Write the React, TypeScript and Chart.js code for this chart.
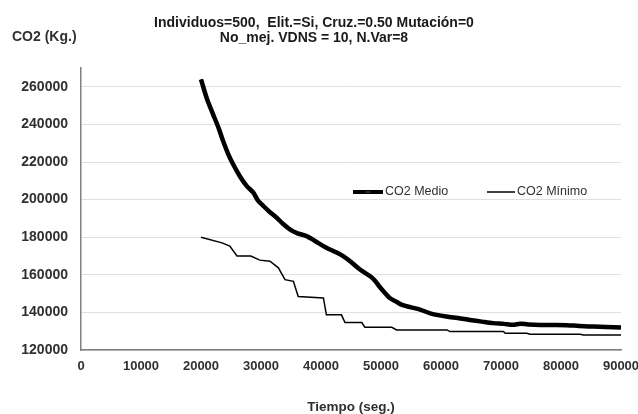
import React, { useEffect, useRef } from "react";
import { Chart, registerables } from "chart.js";

Chart.register(...registerables);

const titleLines = ["Individuos=500,  Elit.=Si, Cruz.=0.50 Mutación=0", "No_mej. VDNS = 10, N.Var=8"];
const yAxisTitle = "CO2 (Kg.)";
const xAxisTitle = "Tiempo (seg.)";

const xTickValues = [0, 10000, 20000, 30000, 40000, 50000, 60000, 70000, 80000, 90000];
const yTickValues = [120000, 140000, 160000, 180000, 200000, 220000, 240000, 260000];

const tiempoMedio = [20000, 21000, 22000, 23000, 23700, 24500, 25400, 26500, 27600, 28700, 29500, 30400, 31500, 32600, 33700, 34800, 36000, 37600, 39000, 40900, 42300, 43700, 45000, 46500, 48200, 49000, 49800, 50700, 51500, 52500, 53500, 55000, 56500, 58200, 60900, 62800, 64800, 66800, 68700, 70500, 72000, 73200, 74500, 76500, 79000, 81000, 83000, 85400, 87500, 90000];
const co2Medio = [264000, 253500, 245500, 237500, 231000, 224500, 218500, 212300, 207300, 203800, 199500, 196600, 193300, 190400, 187000, 184200, 182200, 180600, 178000, 174400, 172300, 169900, 166800, 162800, 159200, 156800, 153500, 150200, 147500, 145800, 144000, 142700, 141500, 139500, 137800, 137000, 136000, 135100, 134300, 133900, 133400, 134000, 133600, 133300, 133300, 133200, 132800, 132500, 132300, 132000];

const tiempoMinimo = [20000, 23500, 24800, 26000, 28300, 29800, 31500, 32900, 34000, 35400, 36200, 40400, 40900, 43400, 44000, 46800, 47300, 51800, 52600, 61000, 61500, 70400, 70700, 74300, 74800, 83200, 83700, 90000];
const co2Minimo = [180000, 177000, 175300, 170000, 170000, 167800, 167200, 163700, 157400, 156500, 148500, 147700, 138700, 138700, 134600, 134600, 132100, 132100, 130700, 130700, 129800, 129800, 128900, 128900, 128400, 128400, 128000, 128000];

const serieMedio = "CO2 Medio";
const serieMinimo = "CO2 Mínimo";

const FONT = "'Liberation Sans', Arial, sans-serif";
const TEXT = "#303030";
const BLUE = "#24578a";

const textPlugin = {
  id: "textPlugin",
  afterDraw(chart: any) {
    const ctx = chart.ctx as CanvasRenderingContext2D;
    ctx.save();
    ctx.fillStyle = "#1a1a1a";
    ctx.textBaseline = "alphabetic";
    ctx.font = `bold 14px ${FONT}`;
    ctx.textAlign = "center";
    ctx.fillText(titleLines[0], 314, 27);
    ctx.fillText(titleLines[1], 314, 42);
    ctx.textAlign = "left";
    ctx.font = `bold 14px ${FONT}`;
    ctx.fillStyle = TEXT;
    ctx.fillText(yAxisTitle, 12, 41);
    ctx.textAlign = "center";
    ctx.font = `bold 13.5px ${FONT}`;
    ctx.fillText(xAxisTitle, 351, 411);

    // legend
    const ly = 192;
    ctx.lineCap = "butt";
    ctx.strokeStyle = "#000";
    ctx.lineWidth = 4;
    ctx.beginPath();
    ctx.moveTo(353, ly);
    ctx.lineTo(383, ly);
    ctx.stroke();
    ctx.strokeStyle = BLUE;
    ctx.lineWidth = 1.2;
    ctx.beginPath();
    ctx.moveTo(366, ly);
    ctx.lineTo(370, ly);
    ctx.stroke();
    ctx.strokeStyle = "#000";
    ctx.lineWidth = 1.5;
    ctx.beginPath();
    ctx.moveTo(487, ly);
    ctx.lineTo(515, ly);
    ctx.stroke();
    ctx.fillStyle = TEXT;
    ctx.font = `12.5px ${FONT}`;
    ctx.textAlign = "left";
    ctx.textBaseline = "middle";
    ctx.fillText(serieMedio, 385, ly);
    ctx.fillText(serieMinimo, 517, ly);
    ctx.restore();
  },
};

export default function App() {
  const ref = useRef<HTMLCanvasElement>(null);
  useEffect(() => {
    document.body.style.margin = "0";
    const canvas = ref.current!;
    const medioPts = tiempoMedio.map((x, i) => ({ x, y: co2Medio[i] }));
    const minimoPts = tiempoMinimo.map((x, i) => ({ x, y: co2Minimo[i] }));
    const chart = new Chart(canvas, {
      type: "line",
      data: {
        datasets: [
          { label: serieMinimo, data: minimoPts, borderColor: "#000", borderWidth: 1.5, pointRadius: 0, tension: 0 },
          { label: serieMedio, data: medioPts, borderColor: "#000", borderWidth: 4.5, pointRadius: 0, tension: 0.3 },
          { label: serieMedio + " ", data: medioPts, borderColor: BLUE, borderWidth: 1.5, pointRadius: 0, tension: 0.3 },
        ],
      },
      options: {
        animation: false,
        responsive: false,
        layout: { padding: { left: 0, right: 17, top: 68, bottom: 0 } },
        plugins: { legend: { display: false }, title: { display: false }, tooltip: { enabled: false } },
        scales: {
          x: {
            type: "linear",
            min: 0,
            max: 90000,
            afterBuildTicks: (s: any) => { s.ticks = xTickValues.map((v) => ({ value: v })); },
            afterFit: (s: any) => { s.height = 64; s.paddingRight = 0; s.paddingLeft = 0; },
            grid: { display: false, drawTicks: false },
            border: { display: true, color: "#7f7f7f", width: 1.5 },
            ticks: { maxRotation: 0, autoSkip: false, padding: 9, color: TEXT, font: { family: FONT, size: 13, weight: "bold" }, callback: (v: any) => String(v) },
          },
          y: {
            type: "linear",
            min: 120000,
            max: 270000,
            afterBuildTicks: (s: any) => { s.ticks = yTickValues.map((v) => ({ value: v })); },
            afterFit: (s: any) => { s.width = 81; },
            grid: { display: true, drawTicks: false, color: "#e0e0e0", lineWidth: 1 },
            border: { display: true, color: "#7f7f7f", width: 1.5 },
            ticks: { padding: 13, color: TEXT, font: { family: FONT, size: 14, weight: "bold" }, callback: (v: any) => String(v) },
          },
        },
      },
      plugins: [textPlugin],
    });
    return () => chart.destroy();
  }, []);
  return (
    <div style={{ width: 638, height: 414 }}>
      <canvas ref={ref} width={638} height={414} />
    </div>
  );
}
